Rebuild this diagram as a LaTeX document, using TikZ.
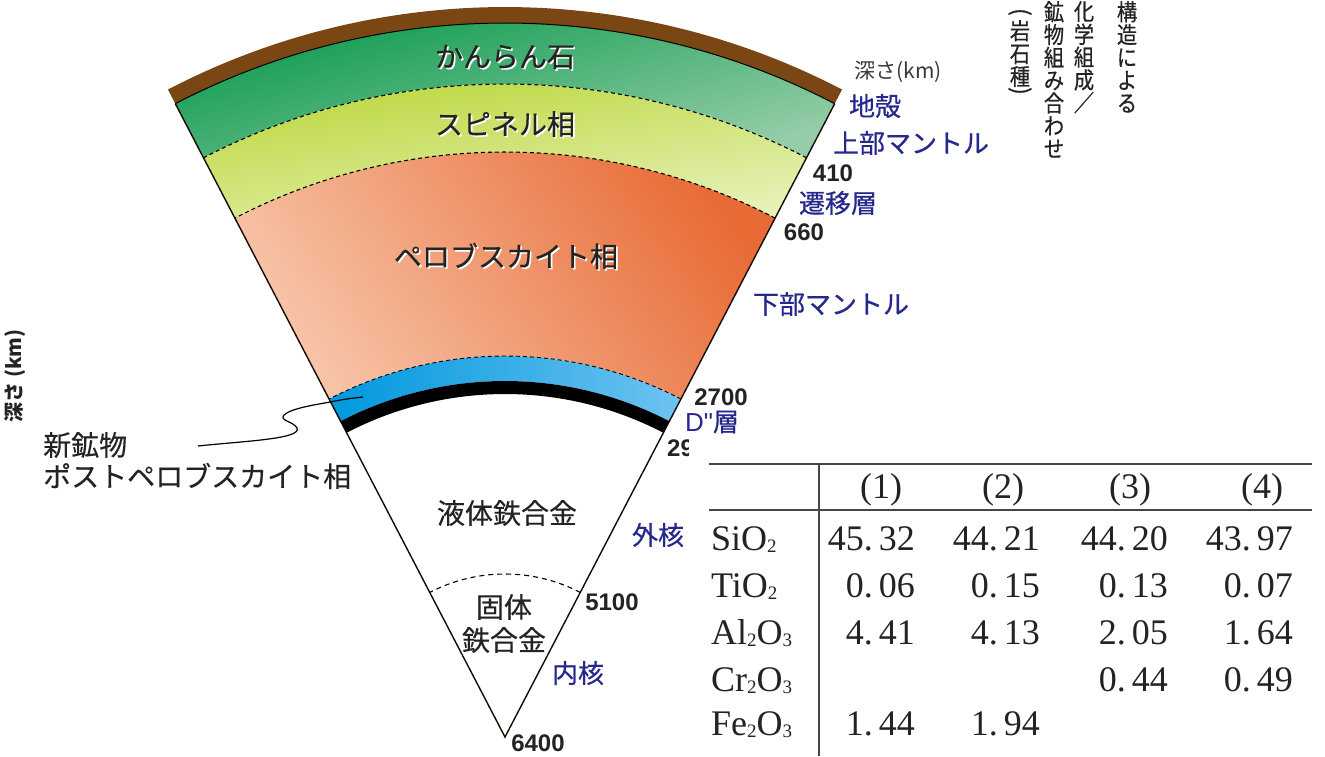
\documentclass[tikz,border=0pt]{standalone}
\usepackage{fontspec}
\newfontfamily\jp{Noto Sans CJK JP}
\newfontfamily\jpl[FakeBold=0.3]{Noto Sans CJK JP}
\newfontfamily\jpm[FakeBold=0.6]{Noto Sans CJK JP}
\newfontfamily\hv{Liberation Sans}
\newfontfamily\tabserif{Liberation Serif}
\usetikzlibrary{calc}

\definecolor{crustbrown}{RGB}{122,70,20}
\definecolor{olivA}{RGB}{0,150,70}
\definecolor{olivB}{RGB}{150,205,168}
\definecolor{spinA}{RGB}{182,212,45}
\definecolor{spinB}{RGB}{230,242,185}
\definecolor{pvA}{RGB}{232,106,52}
\definecolor{pvB}{RGB}{247,196,168}
\definecolor{ppvA}{RGB}{0,152,222}
\definecolor{ppvB}{RGB}{110,195,240}
\definecolor{navy}{RGB}{38,40,140}
\definecolor{ink}{RGB}{35,35,35}
\definecolor{rulegray}{RGB}{70,70,70}

\tikzset{
  sector/.style 2 args={insert path={($(O)+(\aR:#1pt)$) arc[start angle=\aR,end angle=\aL,radius=#1pt]
      -- ($(O)+(\aL:#2pt)$) arc[start angle=\aL,end angle=\aR,radius=#2pt] -- cycle}},
  bound/.style={dash pattern=on 4pt off 3pt, line width=1.1pt, black},
  layerlbl/.style={font=\jpl\fontsize{28}{30}\selectfont, text=ink, inner sep=0pt},
  bluelbl/.style={font=\jpm\fontsize{26}{28}\selectfont, text=navy, inner sep=0pt},
  depthnum/.style={font=\hv\bfseries\fontsize{24}{26}\selectfont, text=ink, inner sep=0pt},
  tabtxt/.style={font=\tabserif\fontsize{36}{40}\selectfont, text=ink, inner sep=0pt},
  vtext/.style={font=\jpm\fontsize{23}{22.8}\selectfont, text=ink, align=center, inner sep=0pt, anchor=north, xscale=0.88},
  vparen/.style={font=\jpm\fontsize{23}{23}\selectfont, text=ink, inner sep=0pt, rotate=-90},
  tabrule/.style={line width=1.6pt, rulegray}
}
\newcommand\shlabel[3]{%
  \node[layerlbl,text=white] at ($(#2)+(1.6,-1.6)$) {#3};
  \node[layerlbl] (#1) at (#2) {#3};}
% chemical formula subscript, set small and close to the baseline
\newcommand\sbs[1]{\raisebox{-2pt}{\fontsize{19}{19}\selectfont #1}}

\begin{document}
\begin{tikzpicture}[x=1pt,y=1pt]
\useasboundingbox (0,0) rectangle (1325,756);
\def\aR{62.5}
\def\aL{117.5}
\coordinate (O) at (505,19);

% layered wedge
\fill[crustbrown, sector={730}{714}];
\shade[top color=olivA, bottom color=olivB, shading angle=15, sector={714}{653}];
\shade[top color=spinA, bottom color=spinB, shading angle=8, sector={653}{585}];
\shade[top color=pvA, bottom color=pvB, shading angle=-55, sector={585}{381}];
\shade[left color=ppvA, right color=ppvB, sector={381}{356}];
\fill[black, sector={356}{343}];

% boundaries
\draw[line width=1pt] ($(O)+(\aR:714pt)$) arc[start angle=\aR,end angle=\aL,radius=714pt];
\draw[bound] ($(O)+(\aR:653pt)$) arc[start angle=\aR,end angle=\aL,radius=653pt];
\draw[bound] ($(O)+(\aR:585pt)$) arc[start angle=\aR,end angle=\aL,radius=585pt];
\draw[bound, line width=0.9pt] ($(O)+(\aR:381pt)$) arc[start angle=\aR,end angle=\aL,radius=381pt];
\draw[dash pattern=on 5pt off 4pt, line width=1.1pt] ($(O)+(\aR:163pt)$) arc[start angle=\aR,end angle=\aL,radius=163pt];

% wedge sides
\coordinate (TL) at ($(O)+(\aL:714pt)$);
\coordinate (TR) at ($(O)+(\aR:714pt)$);
\draw[line width=1.4pt, black!85!crustbrown] (TL) -- (O) -- (TR);

% layer names
\shlabel{ol}{505,699}{かんらん石}
\shlabel{sp}{505,632}{スピネル相}
\shlabel{pv}{506,500}{ペロブスカイト相}
\node[layerlbl] (liq) at (507,243) {液体鉄合金};
\node[layerlbl] (sol1) at (504,149) {固体};
\node[layerlbl] (sol2) at (504,116) {鉄合金};

% post-perovskite pointer
\node[layerlbl, anchor=west] (nm) at (43,311) {新鉱物};
\node[layerlbl, anchor=west] (ppv) at (43,280) {ポストペロブスカイト相};
\coordinate (ptrS) at (198,310);
\coordinate (ptrE) at (363,359);
\draw[line width=1.2pt] (ptrS) .. controls (245,315) and (302,317) .. (297,328)
  .. controls (293,335) and (279,335) .. (284,341)
  .. controls (291,348) and (320,352) .. (330,354)
  .. controls (340,356) and (352,358) .. (ptrE);

% depth scale and zone names
\node[font=\jp\fontsize{21}{22}\selectfont, text=ink!90, inner sep=0pt] (dep) at (898,684) {深さ(km)};
\node[bluelbl] (crust) at (875,650) {地殻};
\node[bluelbl] (um) at (911,613) {上部マントル};
\node[depthnum] (d410) at (833,583) {410};
\node[bluelbl] (tz) at (838,553) {遷移層};
\node[depthnum] (d660) at (804,524) {660};
\node[bluelbl] (lm) at (831,452) {下部マントル};
\node[depthnum] (d2700) at (721,359) {2700};
\node[bluelbl] (dpp) at (712,334) {{\hv D"}層};
\node[depthnum, anchor=west] (d2900) at (667,308) {2900};
\node[bluelbl] (oc) at (658,221) {外核};
\node[depthnum] (d5100) at (612,154) {5100};
\node[bluelbl] (ic) at (578,83) {内核};
\node[depthnum] (d6400) at (538,13) {6400};

% vertical axis caption
\node[rotate=90, font=\jp\bfseries\fontsize{20}{21}\selectfont, text=ink, inner sep=0pt] (axis) at (15,380) {深さ (km)};

% vertical column headings
\node[vtext] (h1) at (1127,755) {構\\造\\に\\よ\\る};
\node[vtext] (h2) at (1084,755) {化\\学\\組\\成\\／};
\node[vtext] (h3) at (1054,755) {鉱\\物\\組\\み\\合\\わ\\せ};
\node[vparen] (h4a) at (1020,744) {(};
\node[vtext] (h4) at (1020,736) {岩\\石\\種};
\node[vparen] (h4b) at (1020,665) {)};

% composition table
\fill[white] (689,0) rectangle (1325,319);
\draw[tabrule] (709,292) -- (1312,292);
\draw[tabrule] (709,246) -- (1312,246);
\draw[tabrule] (819,292) -- (819,0);

\node[tabtxt, anchor=base] (c1) at (881,258) {(1)};
\node[tabtxt, anchor=base] (c2) at (1003,258) {(2)};
\node[tabtxt, anchor=base] (c3) at (1130,258) {(3)};
\node[tabtxt, anchor=base] (c4) at (1262,258) {(4)};

\node[tabtxt, anchor=base west] (r1) at (711,206) {SiO\sbs{2}};
\node[tabtxt, anchor=base west] (r2) at (711,159) {TiO\sbs{2}};
\node[tabtxt, anchor=base west] (r3) at (711,112) {Al\sbs{2}O\sbs{3}};
\node[tabtxt, anchor=base west] (r4) at (711,65) {Cr\sbs{2}O\sbs{3}};
\node[tabtxt, anchor=base west] (r5) at (711,21) {Fe\sbs{2}O\sbs{3}};

\node[tabtxt, anchor=base east] at (915,206) {45.\,32};
\node[tabtxt, anchor=base east] at (1040,206) {44.\,21};
\node[tabtxt, anchor=base east] at (1168,206) {44.\,20};
\node[tabtxt, anchor=base east] at (1293,206) {43.\,97};

\node[tabtxt, anchor=base east] at (915,159) {0.\,06};
\node[tabtxt, anchor=base east] at (1040,159) {0.\,15};
\node[tabtxt, anchor=base east] at (1168,159) {0.\,13};
\node[tabtxt, anchor=base east] at (1293,159) {0.\,07};

\node[tabtxt, anchor=base east] at (915,112) {4.\,41};
\node[tabtxt, anchor=base east] at (1040,112) {4.\,13};
\node[tabtxt, anchor=base east] at (1168,112) {2.\,05};
\node[tabtxt, anchor=base east] at (1293,112) {1.\,64};

\node[tabtxt, anchor=base east] at (1168,65) {0.\,44};
\node[tabtxt, anchor=base east] at (1293,65) {0.\,49};

\node[tabtxt, anchor=base east] at (915,21) {1.\,44};
\node[tabtxt, anchor=base east] at (1040,21) {1.\,94};
\end{tikzpicture}
\end{document}
